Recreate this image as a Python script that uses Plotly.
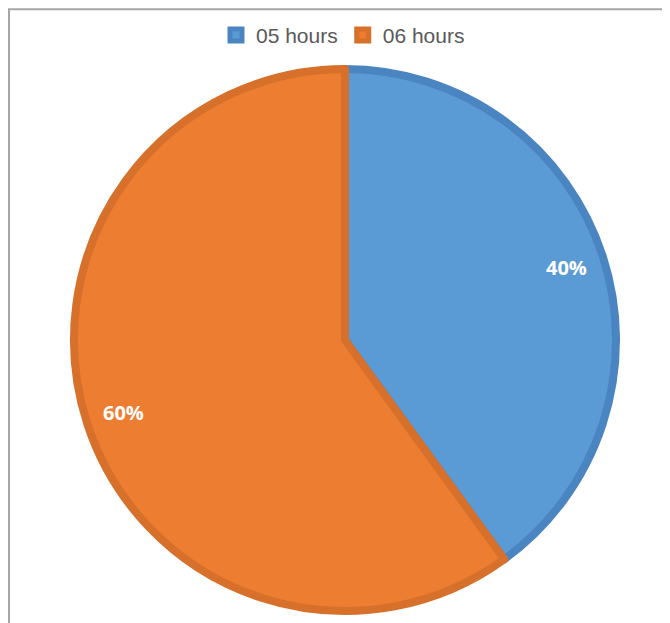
import math
import plotly.graph_objects as go

labels = ["05 hours", "06 hours"]
values = [40, 60]
colors = ["#5b9bd5", "#ed7d31"]
line_colors = ["#4a85c2", "#d6702a"]

W, H = 670, 623
# pie geometry in figure pixels (page is offset by the 8px body margin)
cx, cy, R = 337, 332, 271
dom_x = [(cx - R) / W, (cx + R) / W]
dom_y = [1 - (cy + R) / H, 1 - (cy - R) / H]

fig = go.Figure(go.Pie(
    labels=labels,
    values=values,
    sort=False,
    direction="clockwise",
    rotation=0,
    marker=dict(colors=colors, line=dict(color=line_colors, width=8)),
    textinfo="none",
    domain=dict(x=dom_x, y=dom_y),
    hoverinfo="label+percent",
))

# percentage labels placed at the mid-angle of each slice
total = sum(values)
annotations = []
cum = 0
for v in values:
    mid = (cum + v / 2) / total * 2 * math.pi
    cum += v
    r = 0.86 * R
    px = cx + r * math.sin(mid)
    py = cy - r * math.cos(mid)
    annotations.append(dict(
        x=px / W, y=1 - py / H, xref="paper", yref="paper",
        text=f"{round(v / total * 100)}%", showarrow=False,
        font=dict(family="Open Sans", size=20, color="white", weight="bold"),
        xanchor="center", yanchor="middle",
    ))

fig.update_layout(
    width=W, height=H,
    margin=dict(l=0, r=0, t=0, b=0),
    paper_bgcolor="white",
    showlegend=True,
    legend=dict(orientation="h", x=0.5, xanchor="center", y=0.989, yanchor="top",
                bgcolor="rgba(0,0,0,0)",
                font=dict(family="Liberation Sans", size=21, color="#595959"),
                traceorder="normal"),
    annotations=annotations,
    shapes=[
        dict(type="line", xref="paper", yref="paper", x0=0.0, x1=1.0, y0=0.998, y1=0.998,
             line=dict(color="#a6a6a6", width=2)),
        dict(type="line", xref="paper", yref="paper", x0=0.0015, x1=0.0015, y0=0.0, y1=0.998,
             line=dict(color="#a6a6a6", width=2)),
    ],
)

fig.write_html("out.html")
